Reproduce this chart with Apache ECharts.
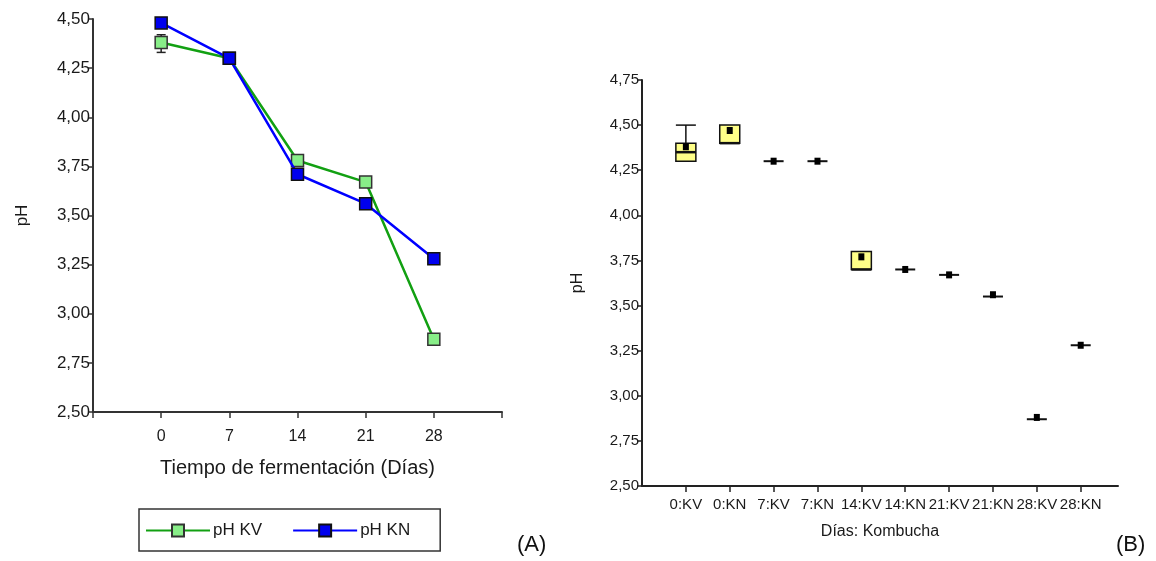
<!DOCTYPE html>
<html>
<head>
<meta charset="utf-8">
<script src="https://cdn.jsdelivr.net/npm/echarts@6/dist/echarts.min.js"></script>
<style>
html,body{margin:0;padding:0;background:#fff;}
#c{width:1156px;height:561px;}
</style>
</head>
<body>
<div id="c"></div>
<script>
// ---- Panel A data ----
var days = [0, 7, 14, 21, 28];
var phKV = [4.38, 4.30, 3.78, 3.67, 2.87];
var phKN = [4.48, 4.30, 3.71, 3.56, 3.28];
var errKVLow = [4.33];
var errKVHigh = [4.42];
var errKVDay = [0];

// ---- Panel B data ----
var boxCategories = ['0:KV','0:KN','7:KV','7:KN','14:KV','14:KN','21:KV','21:KN','28:KV','28:KN'];
var boxMin    = [4.30, 4.40, 4.30, 4.30, 3.70, 3.70, 3.67, 3.55, 2.87, 3.28];
var boxQ1     = [4.30, 4.40, 4.30, 4.30, 3.70, 3.70, 3.67, 3.55, 2.87, 3.28];
var boxMedian = [4.35, 4.40, 4.30, 4.30, 3.70, 3.70, 3.67, 3.55, 2.87, 3.28];
var boxQ3     = [4.40, 4.50, 4.30, 4.30, 3.80, 3.70, 3.67, 3.55, 2.87, 3.28];
var boxMax    = [4.50, 4.50, 4.30, 4.30, 3.80, 3.70, 3.67, 3.55, 2.87, 3.28];
var boxMean   = [4.38, 4.47, 4.30, 4.30, 3.77, 3.70, 3.67, 3.56, 2.88, 3.28];

var FONT = 'Liberation Sans, Arial, sans-serif';
var TXT = '#1a1a1a';
function comma(v){ return v.toFixed(2).replace('.', ','); }

var kvLine = days.map(function(d,i){ return [d, phKV[i]]; });
var knLine = days.map(function(d,i){ return [d, phKN[i]]; });
var errData = errKVDay.map(function(d,i){ return [d, errKVLow[i], errKVHigh[i]]; });
var boxData = boxCategories.map(function(c,i){
  return [i+1, boxMin[i], boxQ1[i], boxMedian[i], boxQ3[i], boxMax[i], boxMean[i]];
});
var tickPos = boxCategories.map(function(c,i){ return i+1; });

var chart = echarts.init(document.getElementById('c'), null, {renderer:'canvas'});

var option = {
  backgroundColor: '#fff',
  animation: false,
  textStyle: {fontFamily: FONT},
  grid: [
    {left: 93, top: 19, width: 409, height: 393},
    {left: 642, top: 80, width: 476, height: 406}
  ],
  xAxis: [
    {
      gridIndex: 0, type: 'value', min: -7, max: 35, interval: 7,
      axisLine: {show: true, onZero: false, lineStyle: {color: '#333', width: 2}},
      axisTick: {show: true, inside: false, length: 6, lineStyle: {color: '#333', width: 1.5}},
      splitLine: {show: false},
      axisLabel: {color: TXT, fontSize: 16, fontFamily: FONT, margin: 17,
        formatter: function(v){ return (v < 0 || v > 28) ? '' : String(v); }},
      name: 'Tiempo de fermentación (Días)', nameLocation: 'middle', nameGap: 46,
      nameTextStyle: {color: TXT, fontSize: 20, fontFamily: FONT}
    },
    {
      gridIndex: 1, type: 'value', min: 0, max: 10.85, interval: 1,
      axisLine: {show: true, onZero: false, lineStyle: {color: '#222', width: 2}},
      axisTick: {show: true, inside: false, length: 6, customValues: tickPos, lineStyle: {color: '#222', width: 1.5}},
      splitLine: {show: false},
      axisLabel: {color: TXT, fontSize: 15, fontFamily: FONT, margin: 11, customValues: tickPos,
        formatter: function(v){ var i = Math.round(v) - 1; return boxCategories[i] || ''; }},
      name: 'Días: Kombucha', nameLocation: 'middle', nameGap: 38,
      nameTextStyle: {color: TXT, fontSize: 16, fontFamily: FONT}
    }
  ],
  yAxis: [
    {
      gridIndex: 0, type: 'value', min: 2.5, max: 4.5, interval: 0.25,
      axisLine: {show: true, onZero: false, lineStyle: {color: '#333', width: 2}},
      axisTick: {show: true, inside: false, length: 5, lineStyle: {color: '#333', width: 1.5}},
      splitLine: {show: false},
      axisLabel: {color: TXT, fontSize: 17, fontFamily: FONT, margin: 3, formatter: comma},
      name: 'pH', nameLocation: 'middle', nameGap: 62, nameRotate: 90,
      nameTextStyle: {color: TXT, fontSize: 17, fontFamily: FONT}
    },
    {
      gridIndex: 1, type: 'value', min: 2.5, max: 4.75, interval: 0.25,
      axisLine: {show: true, onZero: false, lineStyle: {color: '#222', width: 2}},
      axisTick: {show: true, inside: false, length: 5, lineStyle: {color: '#222', width: 1.5}},
      splitLine: {show: false},
      axisLabel: {color: TXT, fontSize: 15, fontFamily: FONT, margin: 3, formatter: comma},
      name: 'pH', nameLocation: 'middle', nameGap: 56, nameRotate: 90,
      nameTextStyle: {color: TXT, fontSize: 16, fontFamily: FONT}
    }
  ],
  legend: {
    data: ['pH KV', 'pH KN'],
    left: 139, top: 509,
    orient: 'horizontal',
    borderColor: '#333', borderWidth: 1.5, borderRadius: 0,
    padding: [13, 30, 12, 6],
    itemWidth: 64, itemHeight: 15, itemGap: 30,
    textStyle: {color: TXT, fontSize: 17, fontFamily: FONT, padding: [0,0,0,-2]}
  },
  series: [
    {
      name: 'pH KV', type: 'line', xAxisIndex: 0, yAxisIndex: 0,
      data: kvLine, z: 3,
      lineStyle: {color: '#12a012', width: 2.5},
      symbol: 'rect', symbolSize: 12,
      itemStyle: {color: '#88ee88', borderColor: '#333', borderWidth: 1.5}
    },
    {
      name: 'pH KN', type: 'line', xAxisIndex: 0, yAxisIndex: 0,
      data: knLine, z: 4,
      lineStyle: {color: '#0000ff', width: 2.5},
      symbol: 'rect', symbolSize: 12,
      itemStyle: {color: '#0000ee', borderColor: '#111', borderWidth: 1.5}
    },
    {
      name: 'errKV', type: 'custom', xAxisIndex: 0, yAxisIndex: 0, z: 2,
      data: errData,
      renderItem: function(params, api){
        var x = api.coord([api.value(0), api.value(1)]);
        var y2 = api.coord([api.value(0), api.value(2)]);
        var w = 4.5;
        var st = {stroke: '#222', lineWidth: 1.5};
        return {type: 'group', children: [
          {type: 'line', shape: {x1: x[0], y1: x[1], x2: y2[0], y2: y2[1]}, style: st},
          {type: 'line', shape: {x1: x[0]-w, y1: x[1], x2: x[0]+w, y2: x[1]}, style: st},
          {type: 'line', shape: {x1: y2[0]-w, y1: y2[1], x2: y2[0]+w, y2: y2[1]}, style: st}
        ]};
      }
    },
    {
      name: 'box', type: 'custom', xAxisIndex: 1, yAxisIndex: 1, z: 3,
      data: boxData,
      renderItem: function(params, api){
        var xv = api.value(0);
        var pMin = api.coord([xv, api.value(1)]);
        var pQ1 = api.coord([xv, api.value(2)]);
        var pMed = api.coord([xv, api.value(3)]);
        var pQ3 = api.coord([xv, api.value(4)]);
        var pMax = api.coord([xv, api.value(5)]);
        var pMean = api.coord([xv, api.value(6)]);
        var cx = pQ1[0];
        var hw = 10;
        var st = {stroke: '#111', lineWidth: 1.5};
        var ch = [];
        if (pMax[1] < pQ3[1] - 0.5) {
          ch.push({type: 'line', shape: {x1: cx, y1: pQ3[1], x2: cx, y2: pMax[1]}, style: st});
          ch.push({type: 'line', shape: {x1: cx-hw, y1: pMax[1], x2: cx+hw, y2: pMax[1]}, style: st});
        }
        if (pMin[1] > pQ1[1] + 0.5) {
          ch.push({type: 'line', shape: {x1: cx, y1: pQ1[1], x2: cx, y2: pMin[1]}, style: st});
          ch.push({type: 'line', shape: {x1: cx-hw, y1: pMin[1], x2: cx+hw, y2: pMin[1]}, style: st});
        }
        if (pQ1[1] - pQ3[1] > 0.5) {
          ch.push({type: 'rect', shape: {x: cx-hw, y: pQ3[1], width: 2*hw, height: pQ1[1]-pQ3[1]},
            style: {fill: '#ffff88', stroke: '#111', lineWidth: 1.5}});
          ch.push({type: 'line', shape: {x1: cx-hw, y1: pMed[1], x2: cx+hw, y2: pMed[1]},
            style: {stroke: '#111', lineWidth: 2.5}});
        } else {
          ch.push({type: 'line', shape: {x1: cx-hw, y1: pMed[1], x2: cx+hw, y2: pMed[1]},
            style: {stroke: '#111', lineWidth: 2}});
        }
        ch.push({type: 'rect', shape: {x: cx-3, y: pMean[1]-3.5, width: 6, height: 7},
          style: {fill: '#000'}});
        return {type: 'group', children: ch};
      }
    }
  ],
  graphic: [
    {type: 'text', left: 517, top: 534, style: {text: '(A)', fill: '#111', font: '22px ' + FONT}},
    {type: 'text', left: 1116, top: 534, style: {text: '(B)', fill: '#111', font: '22px ' + FONT}}
  ]
};
chart.setOption(option);
</script>
</body>
</html>
